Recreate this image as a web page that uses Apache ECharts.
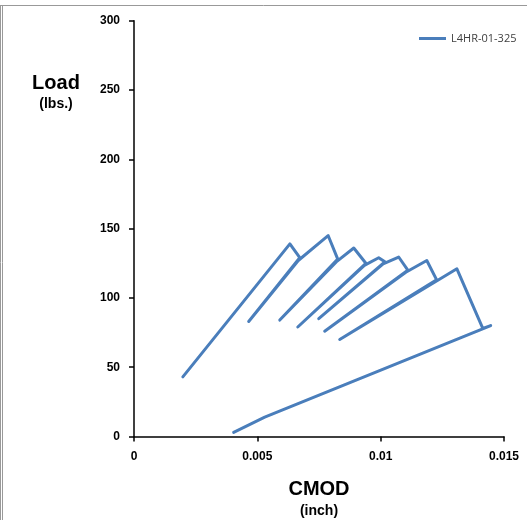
<!DOCTYPE html>
<html>
<head>
<meta charset="utf-8">
<script src="https://cdn.jsdelivr.net/npm/echarts@6/dist/echarts.min.js"></script>
<style>
html,body{margin:0;padding:0;background:#fff;}
#c{width:527px;height:520px;}
</style>
</head>
<body>
<div id="c"></div>
<script>
var seriesName = 'L4HR-01-325';
var cmod = [0.00198, 0.00632, 0.00672, 0.00465, 0.00666, 0.00787, 0.00826, 0.00591, 0.00820, 0.00891, 0.00940, 0.00664, 0.00934, 0.00992, 0.01017, 0.00749, 0.01010, 0.01073, 0.01110, 0.00773, 0.01102, 0.01187, 0.01227, 0.00834, 0.01220, 0.01309, 0.01414, 0.01446, 0.00530, 0.00404];
var load = [43, 139, 129, 83, 127, 145, 128, 84, 126, 136, 125, 79, 123.5, 129, 126, 85, 124.5, 129.5, 120, 76, 118.5, 127, 113, 70, 111.5, 121, 78, 80, 14, 3];
var xTickLabels = ['0', '0.005', '0.01', '0.015'];
var yTickLabels = ['0', '50', '100', '150', '200', '250', '300'];

var data = cmod.map(function (x, i) { return [x, load[i]]; });
var chart = echarts.init(document.getElementById('c'), null, {renderer: 'canvas'});
var blue = '#4a7ebb';
var font = 'Liberation Sans, Arial, sans-serif';
chart.setOption({
  animation: false,
  backgroundColor: '#fff',
  grid: {left: 134, right: 23, top: 20.7, bottom: 83.5, containLabel: false},
  legend: {
    data: [seriesName], left: 414, top: 28, icon: 'rect', itemWidth: 27, itemHeight: 3, itemGap: 4,
    textStyle: {fontSize: 11, color: '#404040', fontFamily: 'Open Sans, Liberation Sans, sans-serif'}
  },
  xAxis: {
    type: 'value', min: 0, max: 0.015, interval: 0.005,
    axisLine: {show: true, onZero: false, lineStyle: {color: '#000', width: 1.5}},
    axisTick: {show: true, inside: false, length: 5, lineStyle: {color: '#000', width: 1.5}},
    splitLine: {show: false},
    axisLabel: {margin: 14, fontSize: 12, fontWeight: 'bold', color: '#000', fontFamily: font,
      formatter: function (v) { return xTickLabels[Math.round(v / 0.005)]; }}
  },
  yAxis: {
    type: 'value', min: 0, max: 300, interval: 50,
    axisLine: {show: true, lineStyle: {color: '#000', width: 1.5}},
    axisTick: {show: true, inside: false, length: 5, lineStyle: {color: '#000', width: 1.5}},
    splitLine: {show: false},
    axisLabel: {margin: 14, fontSize: 12, fontWeight: 'bold', color: '#000', fontFamily: font,
      formatter: function (v) { return yTickLabels[Math.round(v / 50)]; }}
  },
  series: [{
    name: seriesName, type: 'line', data: data, showSymbol: false, symbol: 'none',
    color: blue, lineStyle: {color: blue, width: 3, join: 'round', cap: 'round'}
  }],
  graphic: [
    {type: 'line', shape: {x1: 0, y1: 5.5, x2: 527, y2: 5.5}, style: {stroke: '#999', lineWidth: 1}},
    {type: 'line', shape: {x1: 0.5, y1: 5, x2: 0.5, y2: 520}, style: {stroke: '#999', lineWidth: 1}},
    {type: 'line', shape: {x1: 2.5, y1: 5, x2: 2.5, y2: 520}, style: {stroke: '#999', lineWidth: 1}},
    {type: 'text', style: {text: 'Load', x: 56, y: 83, textAlign: 'center', textVerticalAlign: 'middle', font: 'bold 20px ' + font, fill: '#000'}},
    {type: 'text', style: {text: '(lbs.)', x: 56, y: 104, textAlign: 'center', textVerticalAlign: 'middle', font: 'bold 14px ' + font, fill: '#000'}},
    {type: 'text', style: {text: 'CMOD', x: 319, y: 489, textAlign: 'center', textVerticalAlign: 'middle', font: 'bold 20px ' + font, fill: '#000'}},
    {type: 'text', style: {text: '(inch)', x: 319, y: 511, textAlign: 'center', textVerticalAlign: 'middle', font: 'bold 14px ' + font, fill: '#000'}}
  ]
});
</script>
</body>
</html>
